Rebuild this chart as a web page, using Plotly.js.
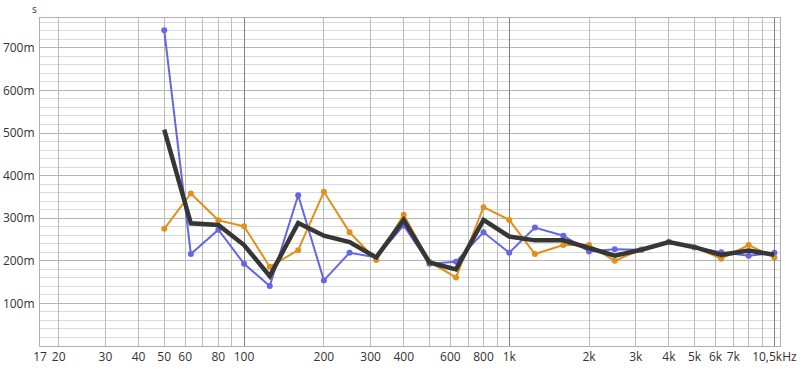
<!DOCTYPE html>
<html>
<head>
<meta charset="utf-8">
<script src="https://cdn.plot.ly/plotly-3.0.1.min.js"></script>
<style>html,body{margin:0;padding:0;background:#fff;}#chart{width:800px;height:371px;}</style>
</head>
<body>
<div id="chart"></div>
<script>
// Frequencies (Hz), third-octave bands
const freqs = [50, 63, 80, 100, 125, 160, 200, 250, 315, 400, 500, 630, 800, 1000, 1250, 1600, 2000, 2500, 3150, 4000, 5000, 6300, 8000, 10000];
// Series values in seconds
const seriesBlue = [0.741, 0.216, 0.273, 0.193, 0.141, 0.354, 0.154, 0.219, 0.208, 0.283, 0.193, 0.198, 0.267, 0.219, 0.278, 0.259, 0.222, 0.227, 0.226, 0.245, 0.231, 0.220, 0.212, 0.219];
const seriesOrange = [0.275, 0.358, 0.295, 0.281, 0.186, 0.225, 0.362, 0.267, 0.202, 0.308, 0.198, 0.161, 0.326, 0.296, 0.216, 0.237, 0.237, 0.200, 0.227, 0.243, 0.232, 0.205, 0.237, 0.208];
const seriesAvg = [0.508, 0.288, 0.284, 0.237, 0.164, 0.289, 0.259, 0.244, 0.208, 0.296, 0.196, 0.180, 0.296, 0.257, 0.248, 0.248, 0.230, 0.212, 0.226, 0.244, 0.232, 0.214, 0.224, 0.214];

// X tick labels and grid
const xGridVals = [17, 20, 30, 40, 50, 60, 70, 80, 90, 100, 200, 300, 400, 500, 600, 700, 800, 900, 1000, 2000, 3000, 4000, 5000, 6000, 7000, 8000, 9000, 10000];
const xGridText = ['17', '20', '30', '40', '50', '60', '', '80', '', '100', '200', '300', '400', '', '600', '', '800', '', '1k', '2k', '3k', '4k', '5k', '6k', '7k', '', '', '10,5kHz'];
const xMajorVals = [100, 1000, 10000];
// Y ticks
const yTickVals = [0.1, 0.2, 0.3, 0.4, 0.5, 0.6, 0.7];
const yTickText = ['100m', '200m', '300m', '400m', '500m', '600m', '700m'];

const xRange = [Math.log10(17), Math.log10(10500)];

const traces = [
  {x: [100], y: [0], xaxis: 'x2', mode: 'none', hoverinfo: 'skip', showlegend: false},
  {x: freqs, y: seriesBlue, mode: 'lines+markers', line: {color: '#6666e2', width: 2}, marker: {color: '#6666e2', size: 6}},
  {x: freqs, y: seriesOrange, mode: 'lines+markers', line: {color: '#e0901c', width: 2}, marker: {color: '#e0901c', size: 6}},
  {x: freqs, y: seriesAvg, mode: 'lines', line: {color: '#363636', width: 4.5}}
];

const fontFam = '"Open Sans", "Noto Sans", sans-serif';
const layout = {
  width: 800, height: 371,
  margin: {l: 40, r: 20, t: 18, b: 25},
  paper_bgcolor: '#ffffff', plot_bgcolor: '#ffffff',
  showlegend: false,
  font: {family: fontFam, size: 12, color: '#333'},
  xaxis: {
    type: 'log', range: xRange,
    tickmode: 'array', tickvals: xGridVals, ticktext: xGridText,
    showgrid: true, gridcolor: '#bcbcbc', gridwidth: 1,
    showline: true, linecolor: '#b0b0b0', linewidth: 1, mirror: true,
    ticks: '', zeroline: false,
    tickfont: {family: fontFam, size: 12, color: '#333'}
  },
  xaxis2: {
    type: 'log', range: xRange, overlaying: 'x',
    tickmode: 'array', tickvals: xMajorVals,
    showticklabels: false, showgrid: true, gridcolor: '#808080', gridwidth: 1,
    showline: false, ticks: '', zeroline: false
  },
  yaxis: {
    range: [0, 0.77],
    tickmode: 'array', tickvals: yTickVals, ticktext: yTickText,
    showgrid: true, gridcolor: '#b4b4b4', gridwidth: 1,
    minor: {dtick: 0.02, tick0: 0, showgrid: true, gridcolor: '#dadada', gridwidth: 1, ticks: ''},
    showline: true, linecolor: '#b0b0b0', linewidth: 1, mirror: true,
    ticks: '', zeroline: false, ticklabelstandoff: 2,
    tickfont: {family: fontFam, size: 12, color: '#333'}
  },
  annotations: [
    {text: 's', xref: 'paper', yref: 'paper', x: -0.0068, y: 1.0, xanchor: 'center', yanchor: 'middle', yshift: 9, showarrow: false, font: {family: fontFam, size: 10, color: '#333'}}
  ]
};

Plotly.newPlot('chart', traces, layout, {displayModeBar: false, staticPlot: true});
</script>
</body>
</html>
